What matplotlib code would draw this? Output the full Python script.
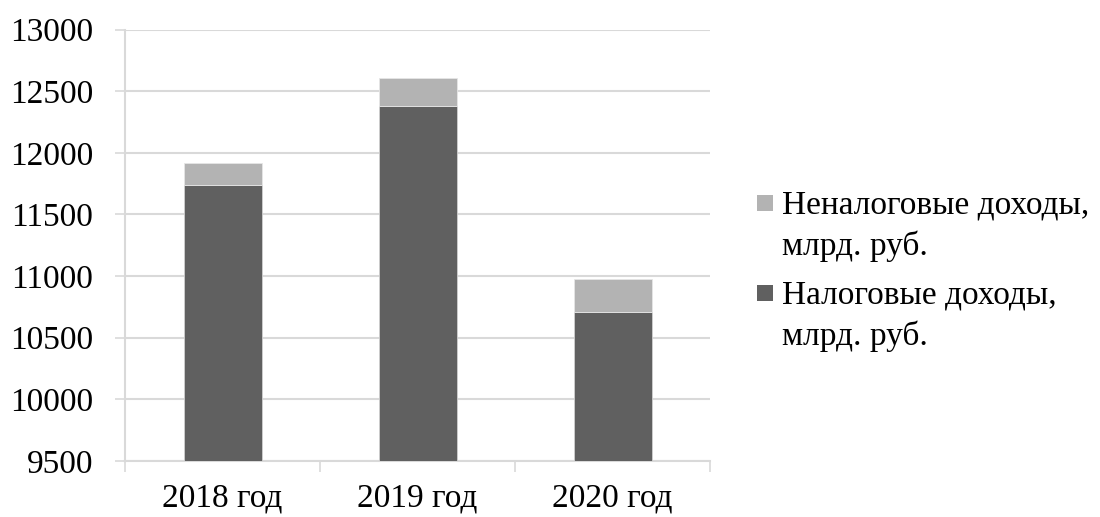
import numpy as np
import matplotlib
matplotlib.use('Agg')
import matplotlib.pyplot as plt
from matplotlib.patches import Rectangle

plt.rcParams['font.family'] = ['Liberation Serif', 'DejaVu Serif']

years = ['2018 год', '2019 год', '2020 год']
tax = [11738, 12376, 10708]
nontax = [181, 227, 265]
yticks = [9500, 10000, 10500, 11000, 11500, 12000, 12500, 13000]

legend_lines = [
    ('Неналоговые доходы,', 'млрд. руб.'),
    ('Налоговые доходы,', 'млрд. руб.'),
]
c_tax = '#606060'
c_nontax = '#b3b3b3'
grid_c = '#d9d9d9'
W, H = 1100, 517
fs = 24

fig = plt.figure(figsize=(11, 5.17), dpi=100)
ax = fig.add_axes([125 / W, 1 - 461 / H, 585 / W, 431.5 / H])

x = np.arange(len(years))
ax.bar(x, tax, width=0.4, color=c_tax, edgecolor='#d0d0d0', linewidth=0.6, zorder=3)
ax.bar(x, nontax, width=0.4, bottom=tax, color=c_nontax, edgecolor='#e6e6e6', linewidth=0.6, zorder=3)

ax.set_xlim(-0.5, len(years) - 0.5)
ax.set_ylim(9500, 13000)
ax.set_yticks(yticks)
ax.set_yticklabels([str(v) for v in yticks], fontsize=fs)
ax.yaxis.grid(True, color=grid_c, linewidth=1.5, zorder=0)

ax.set_xticks(x)
ax.set_xticklabels(years, fontsize=fs)
ax.set_xticks(np.arange(len(years) + 1) - 0.5, minor=True)
ax.tick_params(axis='x', which='major', length=0, pad=16)
ax.tick_params(axis='x', which='minor', length=8, width=1.2, color=grid_c, direction='out')
ax.tick_params(axis='y', length=7, width=1.2, color=grid_c, pad=16)

for s in ['top', 'right']:
    ax.spines[s].set_visible(False)
ax.spines['left'].set_color(grid_c)
ax.spines['left'].set_linewidth(1.5)
ax.spines['bottom'].set_color(grid_c)
ax.spines['bottom'].set_linewidth(1.5)

# legend: square marker next to first line, two text lines per item
for i, (color, (l1, l2)) in enumerate(zip([c_nontax, c_tax], legend_lines)):
    y0 = 213 + i * 90
    fig.add_artist(Rectangle((757 / W, 1 - (y0 - 2) / H), 16 / W, 16 / H,
                             transform=fig.transFigure, facecolor=color, edgecolor='none'))
    fig.text(782 / W, 1 - y0 / H, l1, fontsize=fs, va='baseline', ha='left')
    fig.text(782 / W, 1 - (y0 + 42) / H, l2, fontsize=fs, va='baseline', ha='left')

fig.savefig('out.png', dpi=100)
